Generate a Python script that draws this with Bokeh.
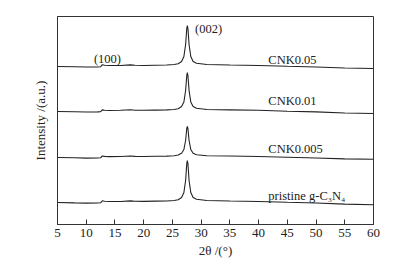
from bokeh.plotting import figure
from bokeh.models import Range1d, FixedTicker, Label
from bokeh.embed import file_html
from bokeh.resources import INLINE

# 2theta sample positions (degrees)
two_theta = [5, 8, 10, 12, 12.5, 12.8, 13.2, 14, 16, 17.7, 18.5, 20, 22, 24, 25.3,
             26.0, 26.6, 27.0, 27.3, 27.5, 27.6, 27.7, 27.9, 28.2, 28.6, 29.2, 31, 35,
             40, 45, 50, 55, 60]

# relative intensities (a.u.)
i_cnk005 = [0, -0.3, -0.5, -0.5, -0.3, 1.8, 1.3, 1.0, 1.0, 1.6, 1.2, 1.0, 1.3, 1.5, 2.0,
            2.8, 5, 10, 22, 38, 41, 38, 22, 10, 5, 3.2, 2.0, 1.5, 1.0, 0.2, -0.5, -1.5, -2.0]
i_cnk001 = [0, -0.3, -0.5, -0.4, -0.2, 1.6, 1.2, 1.0, 1.2, 1.7, 1.3, 1.2, 1.4, 1.6, 2.0,
            2.8, 5, 9.5, 21, 36, 39, 36, 21, 9.5, 5, 3.2, 2.0, 1.6, 1.2, 0.3, -0.4, -1.5, -2.0]
i_cnk0005 = [0, -0.3, -0.6, -0.5, -0.3, 1.5, 1.1, 0.9, 1.0, 1.5, 1.1, 1.0, 1.2, 1.4, 1.8,
             2.5, 4.2, 8, 17, 29, 31, 29, 17, 8, 4.2, 2.8, 1.8, 1.5, 1.0, 0.3, -0.5, -1.4, -1.8]
i_pristine = [0, -0.4, -0.6, -0.5, -0.3, 1.7, 1.3, 1.0, 1.0, 1.6, 1.2, 1.1, 1.4, 1.5, 2.0,
              2.8, 5, 10, 22, 39, 42, 39, 22, 10, 5, 3.2, 2.0, 1.5, 1.0, 0.2, -0.5, -1.6, -2.2]

series_names = ["CNK0.05", "CNK0.01", "CNK0.005", "pristine g-C\u2083N\u2084"]
offsets = [158, 113, 67, 22]
x_ticks = [5, 10, 15, 20, 25, 30, 35, 40, 45, 50, 55, 60]

FONT = "Liberation Serif"
INK = "#222222"

p = figure(width=393, height=260, output_backend="svg", toolbar_location=None,
           x_range=Range1d(5, 60), y_range=Range1d(0, 208),
           min_border_left=57, min_border_right=20, min_border_top=16, min_border_bottom=36)
p.background_fill_color = "white"
p.border_fill_color = "white"
p.outline_line_color = "#333333"
p.outline_line_width = 1
p.xgrid.visible = False
p.ygrid.visible = False

for ints, off in zip([i_cnk005, i_cnk001, i_cnk0005, i_pristine], offsets):
    p.line(two_theta, [v + off for v in ints], line_color=INK, line_width=1.1)

label_x = 41.7
label_y = [165, 124, 76, 29]
for name, ly in zip(series_names, label_y):
    p.add_layout(Label(x=label_x, y=ly, text=name, text_font=FONT, text_font_size="12.5px",
                       text_color=INK, text_baseline="middle", text_align="left"))

p.add_layout(Label(x=13.7, y=166, text="(100)", text_font=FONT, text_font_size="12.5px",
                   text_color=INK, text_baseline="middle", text_align="center"))
p.add_layout(Label(x=31.3, y=196, text="(002)", text_font=FONT, text_font_size="12.5px",
                   text_color=INK, text_baseline="middle", text_align="center"))

p.xaxis.ticker = FixedTicker(ticks=x_ticks)
p.xaxis.minor_tick_line_color = None
p.xaxis.major_tick_in = 5
p.xaxis.major_tick_out = 0
p.xaxis.major_label_standoff = 4
p.xaxis.axis_label = "2\u03b8 /(\u00b0)"
p.xaxis.axis_label_standoff = 3

p.yaxis.ticker = FixedTicker(ticks=[])
p.yaxis.minor_tick_line_color = None
p.yaxis.axis_label = "Intensity /(a.u.)"
p.yaxis.axis_label_standoff = 10

for ax in [p.xaxis[0], p.yaxis[0]]:
    ax.axis_line_color = "#333333"
    ax.major_tick_line_color = "#333333"
    ax.major_label_text_font = FONT
    ax.major_label_text_font_size = "13px"
    ax.major_label_text_color = INK
    ax.axis_label_text_font = FONT
    ax.axis_label_text_font_size = "13px"
    ax.axis_label_text_color = INK
    ax.axis_label_text_font_style = "normal"

open("out.html", "w").write(file_html(p, INLINE))
